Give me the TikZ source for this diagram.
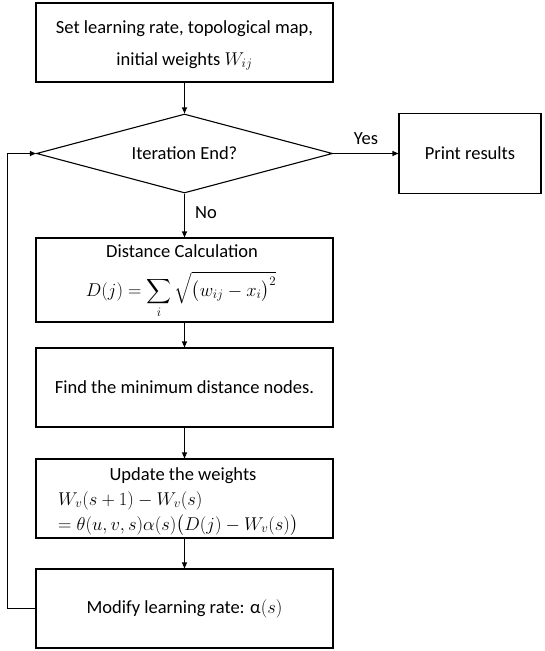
\RequirePackage{fix-cm}
\documentclass[tikz,border=0pt]{standalone}
\usepackage{amsmath}
\usepackage{fontspec}
\setmainfont{Carlito}
\usetikzlibrary{arrows.meta,shapes.geometric}
\begin{document}
\begin{tikzpicture}[x=1pt,y=-1pt,
  txt/.style={font=\fontsize{18.5}{22}\selectfont,inner sep=0pt},
  box/.style={draw=black,line width=1.1pt,rectangle,inner sep=0pt,minimum width=297pt,txt},
  dec/.style={draw=black,line width=1.1pt,diamond,aspect=3.75,inner sep=0pt,minimum width=296pt,minimum height=79pt,txt},
  arr/.style={draw=black,line width=1.1pt,-{Triangle[length=6pt,width=5pt]}}]
\useasboundingbox (0,0) rectangle (544,651);
% boxes
\node[box,minimum height=79pt] (init) at (184.5,42.5) {};
\node[dec] (iter) at (184.5,153.5) {Iteration End?};
\node[box,minimum width=142pt,minimum height=80pt] (print) at (470,153.5) {Print results};
\node[box,minimum height=84pt] (dist) at (184.5,280) {};
\node[box,minimum height=79pt] (find) at (184.5,387.5) {Find the minimum distance nodes.};
\node[box,minimum height=79pt] (upd) at (184.5,498.5) {};
\node[box,minimum height=79pt] (mod) at (184.5,608.5) {Modify learning rate: α$(s)$};
% texts inside boxes
\node[txt,anchor=base] (init1) at (184.5,33) {Set learning rate, topological map,};
\node[txt,anchor=base] (init2) at (184.5,65) {initial weights $W_{ij}$};
\node[txt,anchor=base] (dtitle) at (182,257) {Distance Calculation};
\node[txt,anchor=base] (dform) at (181,296) {$D(j)=\displaystyle\sum_i\sqrt{\bigl(w_{ij}-x_i\bigr)^2}$};
\node[txt,anchor=base] (utitle) at (183,480) {Update the weights};
\node[txt,anchor=base west] (uf1) at (58,505) {$W_v(s+1)-W_v(s)$};
\node[txt,anchor=base west] (uf2) at (58,530) {$=\theta(u,v,s)\alpha(s)\bigl(D(j)-W_v(s)\bigr)$};
% labels
\node[txt,anchor=base] (yes) at (366,144) {Yes};
\node[txt,anchor=base west] (no) at (195,218) {No};
% connectors
\draw[arr] (init.south) -- (iter.north);
\draw[arr] (iter.east) -- (print.west);
\draw[arr] (iter.south) -- (dist.north);
\draw[arr] (dist.south) -- (find.north);
\draw[arr] (find.south) -- (upd.north);
\draw[arr] (upd.south) -- (mod.north);
\draw[arr] (mod.west) -- ++(-28,0) |- (iter.west);
\end{tikzpicture}
\end{document}
